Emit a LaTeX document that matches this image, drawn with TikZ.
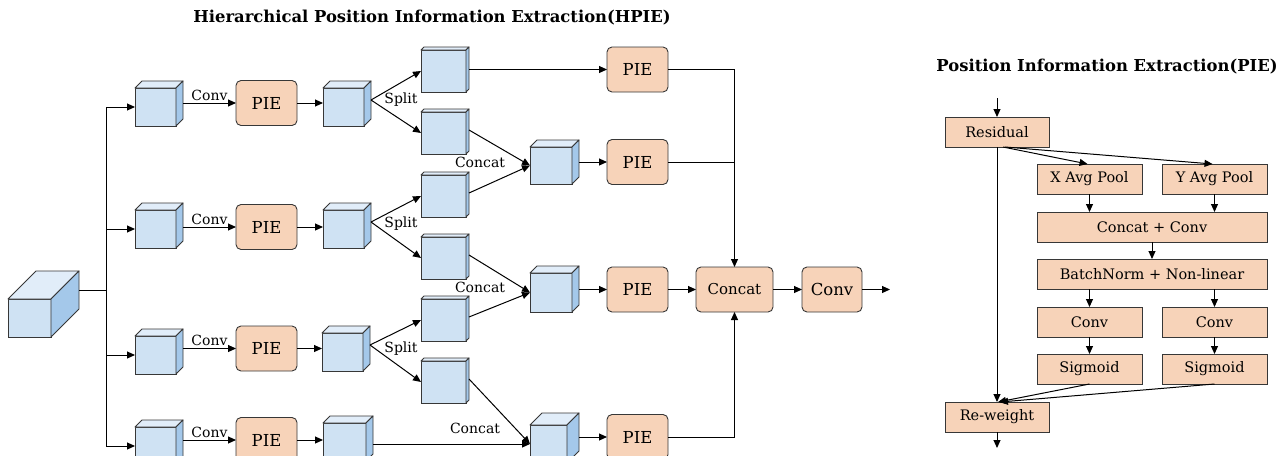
\documentclass[tikz,border=0pt]{standalone}
\usepackage{fontspec}
\setmainfont{DejaVu Serif}
\usetikzlibrary{arrows.meta,calc}
\definecolor{peach}{RGB}{247,211,185}
\definecolor{cfront}{RGB}{207,226,243}
\definecolor{ctop}{RGB}{225,237,249}
\definecolor{cside}{RGB}{164,200,234}
\definecolor{edge}{RGB}{55,55,55}
\tikzset{
  cubefront/.style={draw=edge, fill=cfront, line width=0.9pt, inner sep=0pt, outer sep=0pt},
  cubeline/.style={draw=edge, line width=0.9pt, line join=round},
  piebox/.style={draw=edge, fill=peach, rounded corners=5pt, line width=0.9pt, minimum width=61pt, minimum height=45pt, inner sep=0pt, outer sep=0pt, font=\fontsize{16.5}{18}\selectfont},
  pbox/.style={draw=edge, fill=peach, line width=0.9pt, minimum height=30pt, inner sep=0pt, outer sep=0pt, font=\fontsize{14.5}{17}\selectfont},
  arr/.style={-{Triangle[length=8pt,width=7pt]}, line width=1pt},
  ln/.style={line width=1pt},
  lbl/.style={font=\fontsize{14}{16}\selectfont, inner sep=0pt},
  ttl/.style={font=\bfseries\fontsize{16.4}{18}\selectfont, inner sep=0pt}
}
% name, x, y (front centre), width, height, depth
\newcommand\cubenode[6]{%
  \node[cubefront, minimum width=#4pt, minimum height=#5pt] (#1) at (#2,#3) {};
  \draw[cubeline, fill=ctop] (#1.north west) -- ++(#6,-#6) -- ++(#4,0) -- (#1.north east) -- cycle;
  \draw[cubeline, fill=cside] (#1.north east) -- ++(#6,-#6) -- ++(0,#5) -- (#1.south east) -- cycle;
  \coordinate (#1-r) at ($(#1.east)+(#6pt,#6pt)$);
}
\begin{document}
\begin{tikzpicture}[x=1pt,y=-1pt]
\useasboundingbox (0,0) rectangle (1287,455);

% titles
\node[ttl] (t1) at (432,18) {Hierarchical Position Information Extraction(HPIE)};
\node[ttl] (t2) at (1107,67) {Position Information Extraction(PIE)};

% input cube
\cubenode{in}{29.5}{318}{43}{38}{28}
\coordinate (trunk) at (106,290);

% branch cubes
\cubenode{a1}{155.5}{107}{41}{38}{7}
\cubenode{a2}{155.5}{229}{41}{38}{7}
\cubenode{a3}{155.5}{355}{41}{38}{7}
\cubenode{a4}{155.5}{446}{41}{38}{7}

\node[piebox] (p1) at (266.5,103) {PIE};
\node[piebox] (p2) at (266.5,227) {PIE};
\node[piebox] (p3) at (266.5,348.5) {PIE};
\node[piebox] (p4) at (266.5,440) {PIE};

\cubenode{b1}{343.5}{107}{41}{38}{7}
\cubenode{b2}{343.5}{229}{41}{38}{7}
\cubenode{b3}{342.5}{352}{41}{38}{7}
\cubenode{b4}{344.5}{442}{43}{38}{7}

% split cubes
\cubenode{s1a}{443.5}{71}{45}{42}{3}
\cubenode{s1b}{443.5}{133}{45}{42}{3}
\cubenode{s2a}{443.5}{196}{45}{42}{3}
\cubenode{s2b}{443.5}{258}{45}{42}{3}
\cubenode{s3a}{443.5}{320}{45}{42}{3}
\cubenode{s3b}{443.5}{382}{45}{42}{3}

% concat cubes
\cubenode{k1}{551}{165.5}{42}{37}{7}
\cubenode{k2}{551}{292.5}{42}{39}{7}
\cubenode{k3}{548.5}{444}{37}{38}{12}

\node[piebox] (q1) at (637.5,69.5) {PIE};
\node[piebox] (q2) at (637.5,162) {PIE};
\node[piebox] (q3) at (637.5,289.5) {PIE};
\node[piebox] (q4) at (637.5,437) {PIE};

\node[piebox, minimum width=77pt, font=\fontsize{15}{17}\selectfont] (cat) at (734.5,289.5) {Concat};
\node[piebox, minimum width=60pt] (conv) at (832,289.5) {Conv};
\coordinate (out) at (890,289.5);

% input fan-out
\draw[ln] (in-r) -- (trunk);
\draw[arr] (trunk) |- (a1.west);
\draw[arr] (trunk) |- (a2.west);
\draw[arr] (trunk) |- (a3.west);
\draw[arr] (trunk) |- (a4.west);

% rows
\foreach \i in {1,2,3,4}{
  \draw[arr] (a\i-r |- p\i.west) -- (p\i.west) node[lbl, midway, above=2pt] {Conv};
  \draw[arr] (p\i.east) -- (b\i.west |- p\i.east);
}

% splits
\draw[arr] (b1-r) -- (s1a.west);
\draw[arr] (b1-r) -- (s1b.west);
\draw[arr] (b2-r) -- (s2a.west);
\draw[arr] (b2-r) -- (s2b.west);
\draw[arr] (b3-r) -- (s3a.west);
\draw[arr] (b3-r) -- (s3b.west);
\node[lbl] (sp1) at (401,100) {Split};
\node[lbl] (sp2) at (401,224) {Split};
\node[lbl] (sp3) at (401,349) {Split};

% concats
\draw[arr] (s1b-r) -- (k1.west);
\draw[arr] (s2a-r) -- (k1.west);
\draw[arr] (s2b-r) -- (k2.west);
\draw[arr] (s3a-r) -- (k2.west);
\draw[arr] (s3b-r) -- (k3.west);
\draw[arr] (b4-r |- k3.west) -- (k3.west);
\node[lbl] (cl1) at (480,162) {Concat};
\node[lbl] (cl2) at (480,287) {Concat};
\node[lbl] (cl3) at (475,428) {Concat};

% to PIE column
\draw[arr] (s1a-r |- q1.west) -- (q1.west);
\draw[arr] (k1-r |- q2.west) -- (q2.west);
\draw[arr] (k2-r |- q3.west) -- (q3.west);
\draw[arr] (k3-r |- q4.west) -- (q4.west);

% merge
\draw[arr] (q1.east) -| (cat.north);
\draw[ln] (q2.east) -- (q2.east -| cat.north);
\draw[arr] (q3.east) -- (cat.west);
\draw[arr] (q4.east) -| (cat.south);
\draw[arr] (cat.east) -- (conv.west);
\draw[arr] (conv.east) -- (out);

% PIE panel
\node[pbox, minimum width=104pt] (res) at (997,132) {Residual};
\node[pbox, minimum width=105pt] (xp) at (1089.5,179) {X Avg Pool};
\node[pbox, minimum width=105pt] (yp) at (1214.5,179) {Y Avg Pool};
\node[pbox, minimum width=230pt] (cc) at (1152,227) {Concat + Conv};
\node[pbox, minimum width=230pt] (bn) at (1152,274) {BatchNorm + Non-linear};
\node[pbox, minimum width=105pt] (cvl) at (1089.5,322) {Conv};
\node[pbox, minimum width=105pt] (cvr) at (1214.5,322) {Conv};
\node[pbox, minimum width=105pt] (sgl) at (1089.5,369) {Sigmoid};
\node[pbox, minimum width=105pt] (sgr) at (1214.5,369) {Sigmoid};
\node[pbox, minimum width=104pt] (rw) at (997,417) {Re-weight};
\coordinate (pin) at (997,98);
\coordinate (pout) at (997,448);

\draw[arr] (pin) -- (res.north);
\draw[arr] ($(res.south)+(6,0)$) -- ($(xp.north)+(-2,0)$);
\draw[arr] ($(res.south)+(8,0)$) -- ($(yp.north)+(-2,0)$);
\draw[arr] (xp.south) -- (xp.south |- cc.north);
\draw[arr] (yp.south) -- (yp.south |- cc.north);
\draw[arr] (cc.south) -- (bn.north);
\draw[arr] (cvl.north |- bn.south) -- (cvl.north);
\draw[arr] (cvr.north |- bn.south) -- (cvr.north);
\draw[arr] (cvl.south) -- (sgl.north);
\draw[arr] (cvr.south) -- (sgr.north);
\draw[arr] (res.south) -- (rw.north);
\draw[arr] (sgl.south) -- ($(rw.north)+(1,0)$);
\draw[arr] (sgr.south) -- ($(rw.north)+(3,0)$);
\draw[arr] (rw.south) -- (pout);
\end{tikzpicture}
\end{document}
